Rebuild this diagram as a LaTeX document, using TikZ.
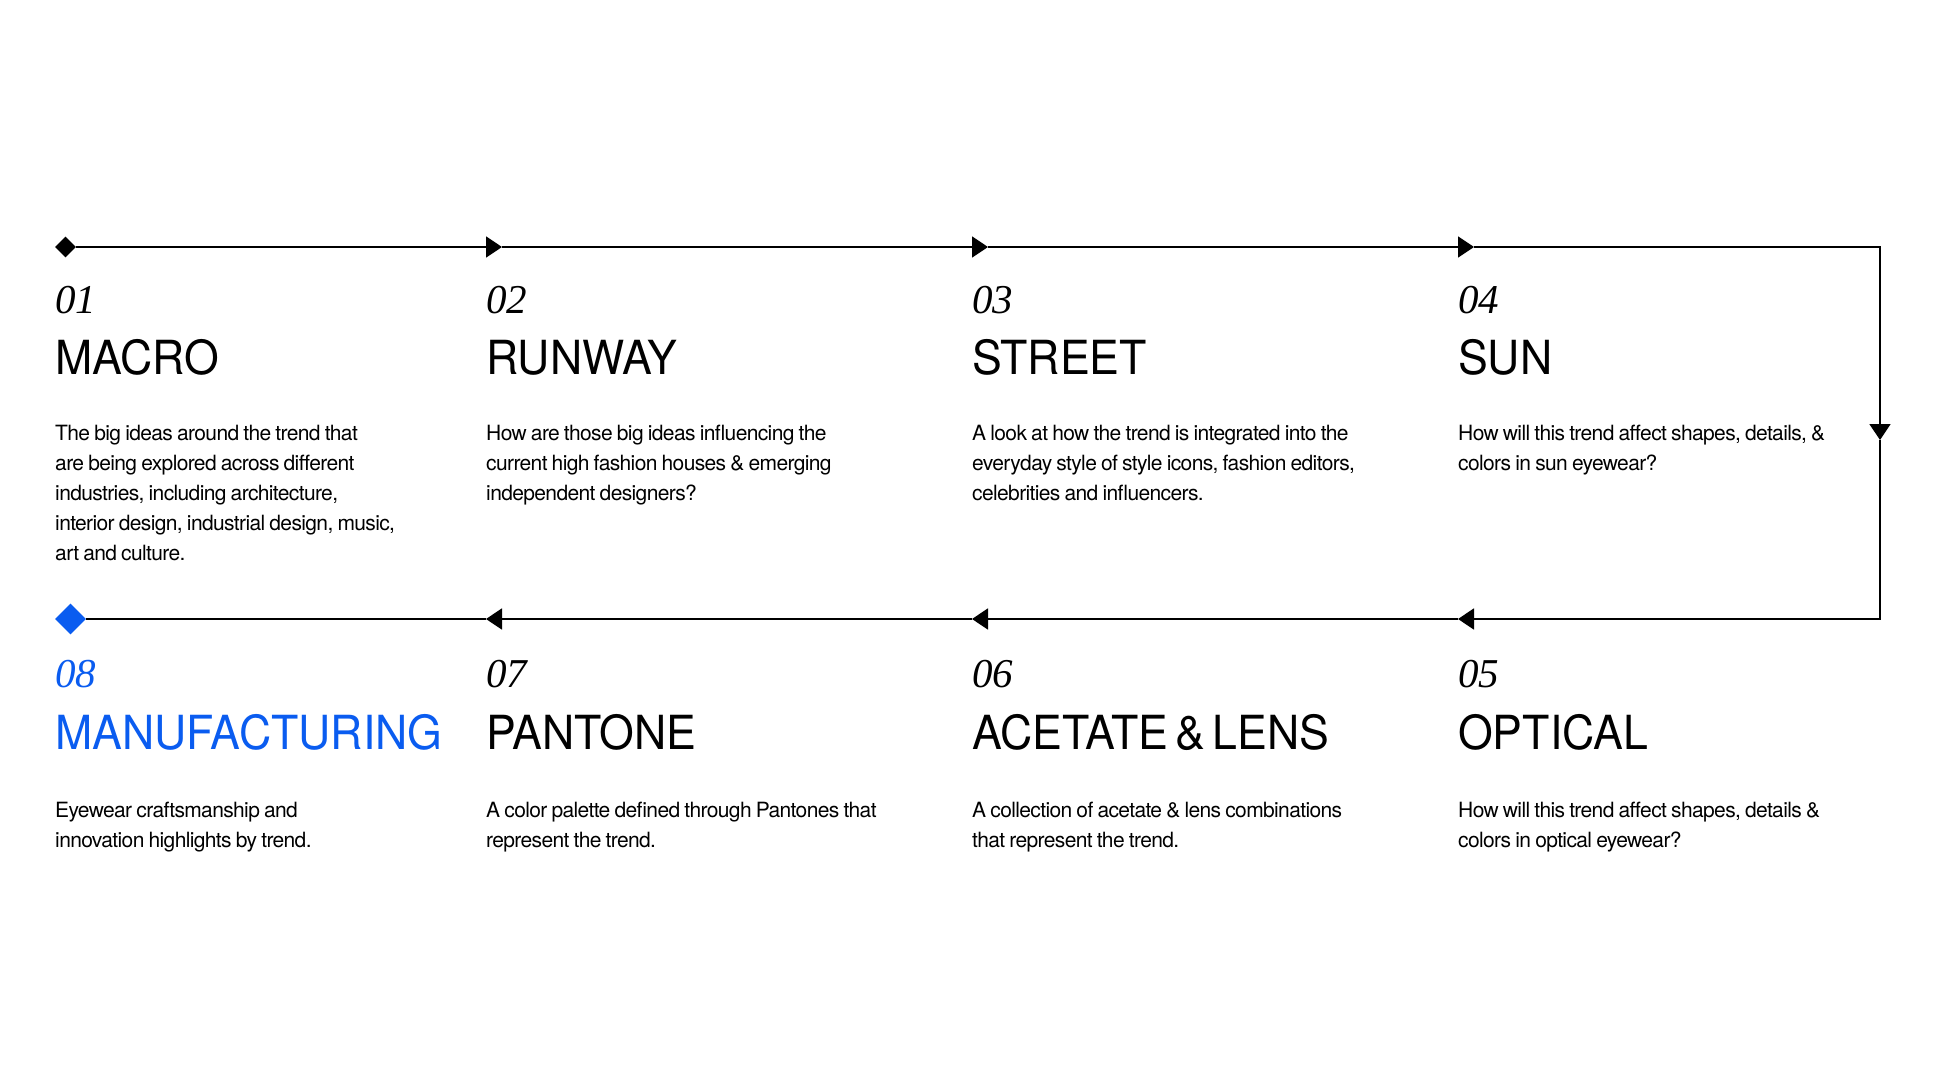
\documentclass[tikz,border=0pt]{standalone}
\usepackage{fontspec}
\setmainfont{Latin Modern Roman}
\newfontfamily\headfont[FakeStretch=0.95,WordSpace=0.6]{TeX Gyre Heros}
\newfontfamily\bodyfont[LetterSpace=-3]{TeX Gyre Heros}
\newfontfamily\numfont{Liberation Serif}
\newcommand\tightsp{\spaceskip=0.2em plus 0.05em minus 0.02em\xspaceskip=\spaceskip}
\usetikzlibrary{arrows.meta,shapes.geometric}
\definecolor{accent}{RGB}{10,92,240}
\begin{document}
\begin{tikzpicture}[x=1pt,y=-1pt,
  num/.style={anchor=base west, inner sep=0pt, font=\numfont\itshape\fontsize{41}{41}\selectfont},
  ttl/.style={anchor=base west, inner sep=0pt, font=\headfont\fontsize{47}{50}\selectfont},
  body/.style={anchor=base west, inner sep=0pt, text width=470pt, align=left, font=\bodyfont\fontsize{21}{30}\selectfont},
  flow/.style={line width=1.8pt, -{Triangle[length=16pt,width=21pt]}},
  plainline/.style={line width=1.8pt},
  ]
\useasboundingbox (0,0) rectangle (1936,1089);
\fill[white] (0,0) rectangle (1936,1089);

% markers
\node[diamond, fill=black, minimum width=21pt, minimum height=21pt, inner sep=0pt] (start) at (65.5,247) {};
\node[diamond, fill=accent, minimum width=31pt, minimum height=31pt, inner sep=0pt] (finish) at (70.5,619) {};

% path coordinates
\coordinate (t2) at (502,247);
\coordinate (t3) at (988,247);
\coordinate (t4) at (1474,247);
\coordinate (tr) at (1880,247);
\coordinate (rd) at (1880,440);
\coordinate (br) at (1880,619);
\coordinate (b4) at (1458,619);
\coordinate (b3) at (972,619);
\coordinate (b2) at (486,619);

\draw[flow] (start) -- (t2);
\draw[flow] (t2) -- (t3);
\draw[flow] (t3) -- (t4);
\draw[flow, line join=miter] (t4) -- (tr) -- (rd);
\draw[flow, line join=miter] (rd) -- (br) -- (b4);
\draw[flow] (b4) -- (b3);
\draw[flow] (b3) -- (b2);
\draw[plainline] (b2) -- (finish);

% top row
\node[num] (n1) at (55,313) {01};
\node[ttl] (h1) at (55,374) {MACRO};
\node[body] (d1) at (55,440) {\tightsp The big ideas around the trend that\\are being explored across different\\industries, including architecture,\\interior design, industrial design, music,\\art and culture.};

\node[num] (n2) at (486,313) {02};
\node[ttl] (h2) at (486,374) {RUNWAY};
\node[body] (d2) at (486,440) {\tightsp How are those big ideas influencing the\\current high fashion houses \& emerging\\independent designers?};

\node[num] (n3) at (972,313) {03};
\node[ttl] (h3) at (972,374) {STREET};
\node[body] (d3) at (972,440) {\tightsp A look at how the trend is integrated into the\\everyday style of style icons, fashion editors,\\celebrities and influencers.};

\node[num] (n4) at (1458,313) {04};
\node[ttl] (h4) at (1458,374) {SUN};
\node[body] (d4) at (1458,440) {\tightsp How will this trend affect shapes, details, \&\\colors in sun eyewear?};

% bottom row
\node[num, text=accent] (n8) at (55,687) {08};
\node[ttl, text=accent] (h8) at (55,749) {MANUFACTURING};
\node[body] (d8) at (55,817) {\tightsp Eyewear craftsmanship and\\innovation highlights by trend.};

\node[num] (n7) at (486,687) {07};
\node[ttl] (h7) at (486,749) {PANTONE};
\node[body] (d7) at (486,817) {\tightsp A color palette defined through Pantones that\\represent the trend.};

\node[num] (n6) at (972,687) {06};
\node[ttl] (h6) at (972,749) {ACETATE \& LENS};
\node[body] (d6) at (972,817) {\tightsp A collection of acetate \& lens combinations\\that represent the trend.};

\node[num] (n5) at (1458,687) {05};
\node[ttl] (h5) at (1458,749) {OPTICAL};
\node[body] (d5) at (1458,817) {\tightsp How will this trend affect shapes, details \&\\colors in optical eyewear?};
\end{tikzpicture}
\end{document}
